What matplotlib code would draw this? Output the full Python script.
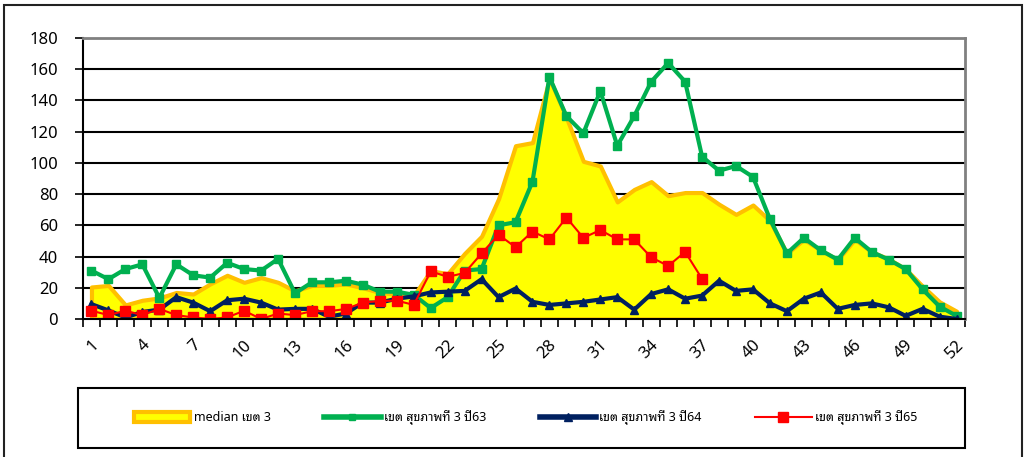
import matplotlib
matplotlib.use("Agg")
import matplotlib.pyplot as plt
import matplotlib.transforms as mtransforms
from matplotlib.patches import Rectangle, Patch
from matplotlib.lines import Line2D
import numpy as np

plt.rcParams['font.family'] = ['Noto Sans Thai Looped', 'DejaVu Sans']

weeks = list(range(1, 53))
median_r3 = [20.5, 21.5, 9, 12, 13.5, 17, 16, 22.5, 28, 23.5, 26.5, 23.5, 18, 21.5, 21.5, 22.5, 20, 17, 16, 15,
             31, 29, 42, 53, 77, 111, 113, 154, 129, 101, 98, 75, 83, 88, 79, 81, 81, 73.5, 67, 73, 63,
             42, 51, 44, 38, 51, 43, 38.5, 32, 21, 11, 5]
y63 = [31, 25.5, 32, 35, 13.5, 35, 28, 26.5, 36, 32, 31, 38.5, 16.5, 23.5, 23.5, 24.5, 22, 17.5, 17.5, 15.5,
       7, 14, 31, 32, 60, 62, 88, 155, 130, 119, 146, 111, 130, 152, 164, 152, 104, 95, 98, 91, 64,
       42, 52, 44, 38, 52, 43, 38, 32, 19, 8, 2]
y64 = [9.5, 5.5, 1, 4.5, 6, 14, 10.5, 5, 12, 13, 10.5, 6, 6.5, 6.5, 1.5, 3.5, 10.5, 10.5, 13, 14.5,
       17, 17.5, 18, 25.5, 14, 19.5, 11, 9, 10, 11, 12.5, 14, 6, 16, 19, 13, 15, 24.5, 18, 19, 10,
       5, 13, 17, 6.5, 9, 10, 7.5, 2, 6.5, 1.5, 0]
y65 = [5.3, 2.5, 5.3, 2.5, 6.5, 2.5, 1, 0, 1, 5.3, 0, 3.5, 2.5, 5, 5, 6.4, 10.5, 11.5, 11.8, 9,
       30.5, 27, 29.5, 42, 54, 46, 56, 51, 65, 52, 57, 51, 51, 39.5, 34, 43, 25.7]
ytick_vals = list(range(0, 181, 20))
xlabel_weeks = list(range(1, 53, 3))
legend_labels = ['median เขต 3', 'เขต สุขภาพที่ 3 ปี63', 'เขต สุขภาพที่ 3 ปี64', 'เขต สุขภาพที่ 3 ปี65']

W, H = 1025, 457
fig = plt.figure(figsize=(W / 100, H / 100), dpi=100)
fig.patch.set_facecolor('white')

# outer frame
fig.patches.append(Rectangle((4 / W, -0.02), (1022 - 4) / W, (H - 5) / H + 0.02,
                             transform=fig.transFigure, fill=False, edgecolor='#222222', lw=1.5))

x0, x1, ytop, ybot = 83, 965, 38, 319
ax = fig.add_axes([x0 / W, 1 - ybot / H, (x1 - x0) / W, (ybot - ytop) / H])

x = np.array(weeks)
ax.fill_between(x, 0, median_r3, facecolor='#FFFF00', edgecolor='#FFC000', lw=3, zorder=2)
ax.plot(x, y63, color='#00B050', lw=3, marker='s', ms=5.5, zorder=3)
ax.plot(x, y64, color='#002060', lw=3, marker='^', ms=6, zorder=4)
ax.plot(np.array(weeks[:len(y65)]), y65, color='#FF0000', lw=1.5, marker='s', ms=7.5, zorder=5)

ax.set_xlim(0.5, 52.5)
ax.set_ylim(0, 180)
ax.set_yticks(ytick_vals)
ax.set_yticklabels([str(v) for v in ytick_vals], fontsize=12)
for v in ytick_vals[1:-1]:
    ax.axhline(v, color='black', lw=1.5, zorder=1)

ax.set_xticks(xlabel_weeks)
ax.set_xticklabels([str(w) for w in xlabel_weeks], fontsize=12, rotation=45)
ax.set_xticks(np.arange(0.5, 53, 1), minor=True)
ax.tick_params(axis='x', which='major', length=0, pad=17)
ax.tick_params(axis='x', which='minor', length=6, width=1.2, color='black', direction='out')
ax.tick_params(axis='y', length=6, width=1.2, color='black', direction='out', pad=12)
offset = mtransforms.ScaledTranslation(5 / 100, 0, fig.dpi_scale_trans)
for lab in ax.get_xticklabels():
    lab.set_rotation_mode('anchor')
    lab.set_ha('right')
    lab.set_va('center')
    lab.set_transform(lab.get_transform() + offset)

for s in ['left', 'bottom']:
    ax.spines[s].set_color('black')
    ax.spines[s].set_linewidth(1.5)
for s in ['top', 'right']:
    ax.spines[s].set_color('#808080')
    ax.spines[s].set_linewidth(2)
ax.spines['bottom'].set_zorder(6)

# legend box
lx0, lx1, ly0, ly1 = 78, 965, 388, 448
fig.patches.append(Rectangle((lx0 / W, 1 - ly1 / H), (lx1 - lx0) / W, (ly1 - ly0) / H,
                             transform=fig.transFigure, fill=False, edgecolor='black', lw=1.5))
handles = [
    Patch(facecolor='#FFFF00', edgecolor='#FFC000', lw=3),
    Line2D([], [], color='#00B050', lw=4, marker='s', ms=5),
    Line2D([], [], color='#002060', lw=4, marker='^', ms=6),
    Line2D([], [], color='#FF0000', lw=1.5, marker='s', ms=7.5),
]
fig.legend(handles, legend_labels, loc='center', bbox_to_anchor=((lx0 + lx1) / 2 / W + 0.004, 1 - (ly0 + ly1) / 2 / H),
           ncol=4, frameon=False, fontsize=9, handlelength=4.5, handletextpad=0.25,
           columnspacing=4.3, handleheight=0.8)

fig.savefig("out.png", dpi=100)
